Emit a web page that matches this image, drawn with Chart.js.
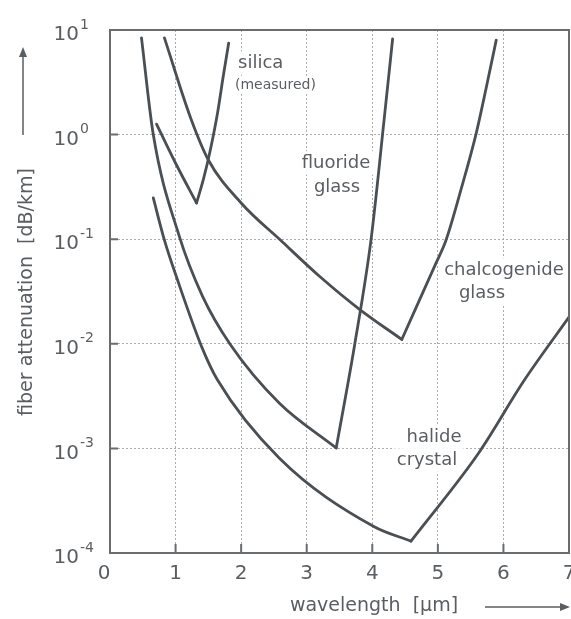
<!DOCTYPE html>
<html><head><meta charset="utf-8">
<script src="https://cdn.jsdelivr.net/npm/chart.js@4.4.0/dist/chart.umd.min.js"></script>
<style>html,body{margin:0;padding:0;background:#fff}#wrap{width:571px;height:619px}</style>
</head><body><div id="wrap"><canvas id="c" width="571" height="619"></canvas></div>
<script>
// ---- data (wavelength in µm, attenuation in dB/km) ----
const xTicks = [0,1,2,3,4,5,6,7];
const yExponents = [1,0,-1,-2,-3,-4];

const silicaFallX = [0.71, 1.03, 1.32];
const silicaFallY = [1.26, 0.49, 0.222];
const silicaRiseX = [1.32, 1.43, 1.53, 1.64, 1.73, 1.81];
const silicaRiseY = [0.222, 0.385, 0.713, 1.61, 3.71, 7.5];

const fluorideFallX = [0.48, 0.66, 1.05, 1.41, 1.84, 2.58, 3.45];
const fluorideFallY = [8.4, 1.0, 0.11, 0.0286, 0.00975, 0.00272, 0.00101];
const fluorideRiseX = [3.45, 3.73, 3.98, 4.18, 4.31];
const fluorideRiseY = [0.00101, 0.0097, 0.098, 1.38, 8.2];

const chalcFallX = [0.83, 1.23, 1.50, 2.0, 2.63, 3.19, 3.80, 4.45];
const chalcFallY = [8.4, 1.44, 0.572, 0.222, 0.094, 0.0445, 0.0215, 0.0110];
const chalcRiseX = [4.45, 4.97, 5.12, 5.36, 5.58, 5.74, 5.89];
const chalcRiseY = [0.0110, 0.0588, 0.096, 0.309, 1.0, 2.85, 8.0];

const halideFallX = [0.66, 0.83, 1.03, 1.40, 1.64, 2.58, 4.03, 4.59];
const halideFallY = [0.248, 0.098, 0.0407, 0.0093, 0.0045, 0.00081, 0.000178, 0.00013];
const halideRiseX = [4.59, 5.62, 6.32, 7.0];
const halideRiseY = [0.00013, 0.0009, 0.0045, 0.018];

// ---- chart ----
const lineColor = '#4a4f54';
const textColor = '#5a5e62';
const FONT = '"DejaVu Sans", "Liberation Sans", Arial, sans-serif';
function pts(xs, ys){ return xs.map((x,i)=>({x:x, y:ys[i]})); }
const branches = [
  [silicaFallX, silicaFallY], [silicaRiseX, silicaRiseY],
  [fluorideFallX, fluorideFallY], [fluorideRiseX, fluorideRiseY],
  [chalcFallX, chalcFallY], [chalcRiseX, chalcRiseY],
  [halideFallX, halideFallY], [halideRiseX, halideRiseY]
];
const datasets = branches.map(([xs,ys]) => ({
  data: pts(xs, ys), borderColor: lineColor, borderWidth: 2.8, pointRadius: 0,
  cubicInterpolationMode: 'monotone', fill: false, borderCapStyle: 'round', borderJoinStyle: 'round'
}));

const labels = [
  {t:'silica', x:238, y:63, s:18, a:'left'},
  {t:'(measured)', x:235, y:85, s:14, a:'left'},
  {t:'fluoride', x:336, y:163, s:18, a:'center'},
  {t:'glass', x:337, y:187, s:18, a:'center'},
  {t:'chalcogenide', x:504, y:270, s:18, a:'center'},
  {t:'glass', x:482, y:293, s:18, a:'center'},
  {t:'halide', x:434, y:437, s:18, a:'center'},
  {t:'crystal', x:427, y:460, s:18, a:'center'}
];

function arrow(c, x1, y1, x2, y2){
  const ang = Math.atan2(y2-y1, x2-x1), L = 10, W = 4;
  c.beginPath(); c.moveTo(x1,y1); c.lineTo(x2 - L*0.6*Math.cos(ang), y2 - L*0.6*Math.sin(ang)); c.stroke();
  c.beginPath();
  c.moveTo(x2, y2);
  c.lineTo(x2 - L*Math.cos(ang) + W*Math.sin(ang), y2 - L*Math.sin(ang) - W*Math.cos(ang));
  c.lineTo(x2 - L*Math.cos(ang) - W*Math.sin(ang), y2 - L*Math.sin(ang) + W*Math.cos(ang));
  c.closePath(); c.fill();
}

const deco = {
  id: 'deco',
  beforeDatasetsDraw(chart){
    const c = chart.ctx; c.save();
    c.textBaseline = 'middle';
    labels.forEach(l => {
      c.font = l.s + 'px ' + FONT;
      const w = c.measureText(l.t).width;
      const x0 = l.a === 'left' ? l.x : l.x - w/2;
      c.fillStyle = '#fff';
      c.fillRect(x0 - 4, l.y - l.s*0.65, w + 8, l.s*1.3);
    });
    labels.forEach(l => {
      c.font = l.s + 'px ' + FONT;
      c.fillStyle = textColor; c.textAlign = l.a;
      c.fillText(l.t, l.x, l.y);
    });
    c.restore();
  },
  afterDraw(chart){
    const c = chart.ctx, a = chart.chartArea;
    const xs = chart.scales.x, ys = chart.scales.y;
    c.save();
    // frame
    c.strokeStyle = '#6a6d70'; c.lineWidth = 2;
    c.strokeRect(a.left, a.top, a.right - a.left, a.bottom - a.top);
    // inner ticks
    c.beginPath();
    xTicks.slice(1, -1).forEach(v => { const p = xs.getPixelForValue(v); c.moveTo(p, a.bottom); c.lineTo(p, a.bottom - 9); });
    yExponents.slice(1, -1).forEach(e => { const p = ys.getPixelForValue(Math.pow(10, e)); c.moveTo(a.left, p); c.lineTo(a.left + 8, p); });
    c.stroke();
    // x tick labels
    c.fillStyle = textColor; c.textBaseline = 'middle'; c.textAlign = 'center';
    c.font = '20px ' + FONT;
    xTicks.forEach((v, i) => { const p = xs.getPixelForValue(v) + (i === 0 ? -6 : 0); c.fillText(String(v), p, a.bottom + 21); });
    // y tick labels 10^n
    yExponents.forEach(e => {
      const p = ys.getPixelForValue(Math.pow(10, e));
      c.font = '20px ' + FONT; c.textAlign = 'right';
      c.fillText('10', 79, p + 5);
      c.font = '14px ' + FONT; c.textAlign = 'left';
      c.fillText(String(e), 80, p - 5);
    });
    // axis titles
    c.font = '19px ' + FONT; c.textAlign = 'center';
    c.fillText('wavelength  [µm]', 374, 606);
    c.save(); c.translate(27, 292); c.rotate(-Math.PI/2);
    c.fillText('fiber attenuation  [dB/km]', 0, 0);
    c.restore();
    // arrows
    c.strokeStyle = '#5a5e62'; c.fillStyle = '#5a5e62'; c.lineWidth = 1.5;
    arrow(c, 23, 135, 23, 47);
    arrow(c, 485, 607, 570, 607);
    c.restore();
  }
};

new Chart(document.getElementById('c'), {
  type: 'line',
  data: { datasets: datasets },
  options: {
    responsive: false, animation: false, devicePixelRatio: 1,
    layout: { padding: { top: 30, right: 2, left: 0, bottom: 0 } },
    plugins: { legend: { display: false }, tooltip: { enabled: false } },
    scales: {
      x: {
        type: 'linear', min: 0, max: 7,
        ticks: { display: false, stepSize: 1 },
        grid: { color: '#a9abad', lineWidth: 1, drawTicks: false },
        border: { display: false, dash: [2, 2] },
        afterBuildTicks: s => { s.ticks = xTicks.map(v => ({ value: v })); },
        afterFit: s => { s.height = 66; }
      },
      y: {
        type: 'logarithmic', min: 1e-4, max: 10,
        ticks: { display: false },
        grid: { color: '#a9abad', lineWidth: 1, drawTicks: false },
        border: { display: false, dash: [2, 2] },
        afterBuildTicks: s => { s.ticks = yExponents.map(e => ({ value: Math.pow(10, e) })); },
        afterFit: s => { s.width = 110; }
      }
    }
  },
  plugins: [deco]
});
</script>
</body></html>
